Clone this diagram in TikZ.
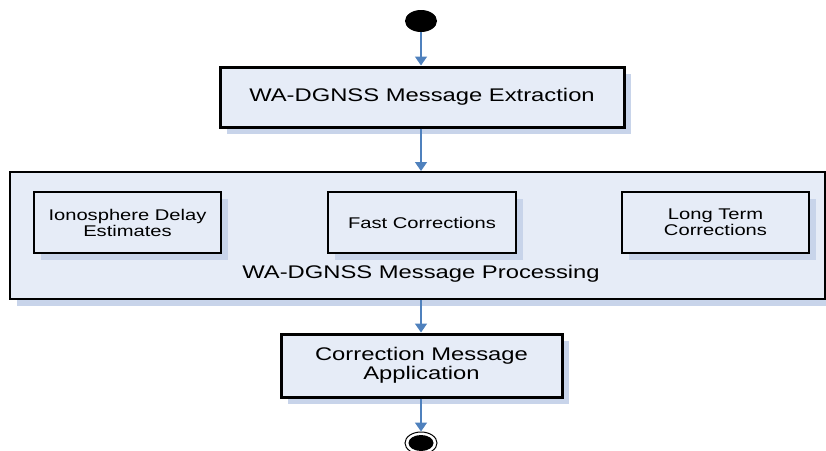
\documentclass[tikz,border=0pt]{standalone}
\usepackage{fontspec}
\setmainfont{Liberation Sans}[FakeStretch=1.3]
\usetikzlibrary{arrows.meta,shapes.geometric,shadows}
\definecolor{boxfill}{RGB}{230,236,247}
\definecolor{shadowc}{RGB}{200,212,234}
\definecolor{arrowblue}{RGB}{79,129,189}
\begin{document}
\begin{tikzpicture}[x=1pt,y=-1pt,
  procbox/.style={draw=black, fill=boxfill, rectangle, inner sep=0pt, align=center,
    general shadow={fill=shadowc, shadow xshift=7pt, shadow yshift=-7pt}},
  bigfont/.style={font=\fontsize{18.3}{19.5}\selectfont},
  smallfont/.style={font=\fontsize{15.5}{16}\selectfont},
  flow/.style={draw=arrowblue, line width=1.5pt, -{Triangle[width=12pt,length=9pt]}},
  ]
\useasboundingbox (0,0) rectangle (826,450);
% start and end
\node[ellipse, fill=black, minimum width=32pt, minimum height=22pt, inner sep=0pt] (start) at (421,21) {};
\node[ellipse, draw=black, line width=1pt, fill=white, minimum width=32pt, minimum height=22pt, inner sep=0pt] (end) at (421,443) {};
\node[ellipse, fill=black, minimum width=25pt, minimum height=16pt, inner sep=0pt] (endin) at (421,443) {};
% boxes
\node[procbox, line width=3pt, minimum width=404pt, minimum height=60pt, bigfont] (extract) at (422,97) {WA-DGNSS Message Extraction};
\node[procbox, line width=2pt, minimum width=815pt, minimum height=127pt] (proc) at (417.5,235.5) {};
\node[procbox, line width=2.5pt, minimum width=187pt, minimum height=61pt, smallfont] (iono) at (127.5,222.5) {Ionosphere Delay\\Estimates};
\node[procbox, line width=2.5pt, minimum width=188pt, minimum height=61pt, smallfont] (fast) at (422,222.5) {Fast Corrections};
\node[procbox, line width=2.5pt, minimum width=187pt, minimum height=61pt, smallfont] (long) at (715.5,222.5) {Long Term\\Corrections};
\node[bigfont, inner sep=0pt] (proclabel) at (421,274) {WA-DGNSS Message Processing};
\node[procbox, line width=3pt, minimum width=281pt, minimum height=63pt, bigfont] (apply) at (421.5,365.5) {Correction Message\\Application};
% connectors
\draw[flow] (start.south) -- (extract.north -| start.south);
\draw[flow] (extract.south -| start.south) -- (proc.north -| start.south);
\draw[flow] (proc.south -| start.south) -- (apply.north -| start.south);
\draw[flow] (apply.south -| start.south) -- (end.north);
\end{tikzpicture}
\end{document}
